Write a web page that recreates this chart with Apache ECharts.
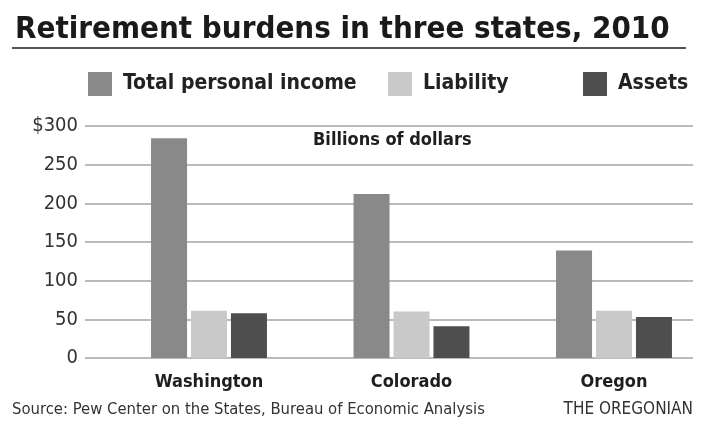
<!DOCTYPE html>
<html>
<head>
<meta charset="utf-8">
<script src="https://cdn.jsdelivr.net/npm/echarts@6/dist/echarts.min.js"></script>
<style>
  html, body { margin: 0; padding: 0; background: #fff; }
  #main { width: 707px; height: 427px; }
</style>
</head>
<body>
<div id="main"></div>
<script>
// 数据
let states = ['Washington', 'Colorado', 'Oregon'];
let seriesNames = ['Total personal income', 'Liability', 'Assets'];
let incomeArr = [284, 212, 139];
let liabilityArr = [61, 60, 61];
let assetsArr = [58, 41, 53];
let yTicks = [0, 50, 100, 150, 200, 250, 300];

let colors = ['#898989', '#c9c9c9', '#4e4e4e'];
let narrow = '"Liberation Sans Narrow", "DejaVu Sans Condensed", sans-serif';

// 图例：分开放，位置各自定
let legendPos = [88, 388, 583];
let legends = seriesNames.map((name, i) => ({
  data: [name],
  left: legendPos[i],
  top: 72,
  padding: 0,
  icon: 'rect',
  itemWidth: 24,
  itemHeight: 24,
  selectedMode: false,
  textStyle: {
    fontFamily: narrow,
    fontWeight: 'bold',
    fontSize: 21,
    color: '#222',
    padding: [3, 0, 0, 6]
  }
}));

let barSeries = [incomeArr, liabilityArr, assetsArr].map((arr, i) => ({
  name: seriesNames[i],
  type: 'bar',
  xAxisIndex: 1,
  yAxisIndex: 1,
  data: arr,
  barWidth: 36,
  barGap: '11%',
  itemStyle: { color: colors[i] }
}));

let option = {
  animation: false,
  backgroundColor: '#fff',
  color: colors,
  title: {
    text: 'Retirement burdens in three states, 2010',
    left: 10,
    top: 9,
    textStyle: {
      fontFamily: narrow,
      fontWeight: 'bold',
      fontSize: 31,
      color: '#1a1a1a'
    }
  },
  legend: legends,
  grid: [
    // 网格线和y轴标签
    { left: 85, right: 14, top: 126, height: 232 },
    // 柱子：类目放在刻度上，首尾是两端州的中心
    { left: 209, width: 405, top: 126, height: 232 }
  ],
  xAxis: [
    { type: 'category', gridIndex: 0, data: states, show: false },
    {
      type: 'category',
      gridIndex: 1,
      data: states,
      boundaryGap: false,
      axisLine: { show: false },
      axisTick: { show: false },
      axisLabel: {
        margin: 15,
        fontFamily: narrow,
        fontWeight: 'bold',
        fontSize: 18,
        color: '#1e1e1e'
      }
    }
  ],
  yAxis: [
    {
      type: 'value',
      gridIndex: 0,
      min: yTicks[0],
      max: yTicks[yTicks.length - 1],
      interval: 50,
      axisLine: { show: false },
      axisTick: { show: false },
      splitLine: { lineStyle: { color: '#a3a3a3', width: 1.5 } },
      axisLabel: {
        margin: 7,
        fontFamily: narrow,
        fontSize: 20,
        color: '#333',
        formatter: v => (v === 300 ? '$' + v : '' + v)
      }
    },
    { type: 'value', gridIndex: 1, min: 0, max: 300, show: false }
  ],
  graphic: [
    {
      type: 'line',
      shape: { x1: 12, y1: 48, x2: 686, y2: 48 },
      style: { stroke: '#555', lineWidth: 2 }
    },
    {
      type: 'text',
      left: 313,
      top: 131,
      style: {
        text: 'Billions of dollars',
        font: 'bold 18px ' + narrow,
        fill: '#1e1e1e'
      }
    },
    {
      type: 'text',
      left: 12,
      top: 401,
      style: {
        text: 'Source: Pew Center on the States, Bureau of Economic Analysis',
        font: '16.5px ' + narrow,
        fill: '#333'
      }
    },
    {
      type: 'text',
      right: 14,
      top: 401,
      style: {
        text: 'THE OREGONIAN',
        font: '17px ' + narrow,
        fill: '#333'
      }
    }
  ],
  series: barSeries
};

let myChart = echarts.init(document.getElementById('main'));
myChart.setOption(option);
</script>
</body>
</html>
